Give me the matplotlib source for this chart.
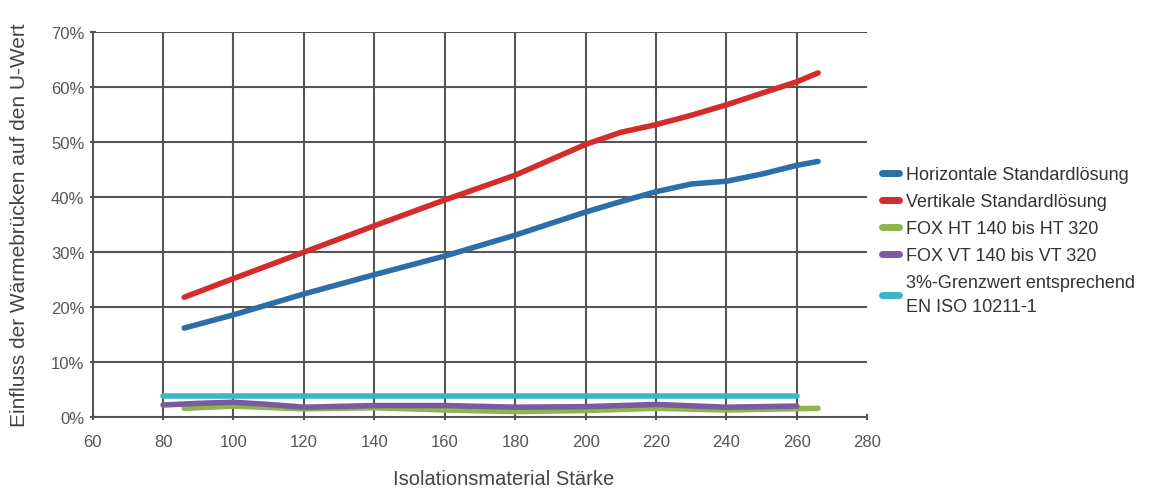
import matplotlib.pyplot as plt

x_main = [86, 100, 120, 140, 160, 180, 200, 210, 220, 230, 240, 250, 260, 266]
horizontal = [16.2, 18.6, 22.4, 25.9, 29.3, 33.1, 37.3, 39.2, 41.0, 42.4, 42.9, 44.2, 45.8, 46.5]
vertikal = [21.8, 25.2, 30.0, 34.8, 39.5, 44.0, 49.6, 51.8, 53.2, 54.9, 56.8, 58.9, 61.0, 62.6]

x_fox = [80, 90, 100, 110, 120, 140, 160, 180, 200, 220, 240, 260]
fox_vt = [2.2, 2.5, 2.7, 2.3, 1.8, 2.1, 2.1, 1.8, 1.9, 2.3, 1.8, 2.0]
x_fox_ht = [86, 100, 120, 140, 160, 180, 200, 220, 240, 266]
fox_ht = [1.6, 2.0, 1.5, 1.7, 1.3, 1.0, 1.2, 1.6, 1.3, 1.6]

x_grenz = [80, 260]
grenz = [3.8, 3.8]

xticks = list(range(60, 281, 20))
yticks = list(range(0, 71, 10))

plt.rcParams['font.family'] = ['Liberation Sans', 'DejaVu Sans']

fig = plt.figure(figsize=(11.58, 4.89), dpi=100)
ax = fig.add_axes([0.08, 0.145, 0.669, 0.787])

lw = 4
ax.plot(x_main, horizontal, color='#2b6ea8', lw=lw, solid_capstyle='round', label='Horizontale Standardlösung')
ax.plot(x_main, vertikal, color='#d42b2b', lw=lw, solid_capstyle='round', label='Vertikale Standardlösung')
ax.plot(x_fox_ht, fox_ht, color='#8db54c', lw=lw, solid_capstyle='round', label='FOX HT 140 bis HT 320')
ax.plot(x_fox, fox_vt, color='#7a5c9e', lw=lw, solid_capstyle='round', label='FOX VT 140 bis VT 320')
ax.plot(x_grenz, grenz, color='#3bb6c9', lw=lw, solid_capstyle='round', label='3%-Grenzwert entsprechend\nEN ISO 10211-1')

ax.set_xlim(60, 280)
ax.set_ylim(0, 70)
ax.set_xticks(xticks)
ax.set_yticks(yticks)
ax.set_yticklabels([f'{t}%' for t in yticks])
for x in xticks[1:-1]:
    ax.axvline(x, color='#555555', lw=1.5, zorder=0)
for y in yticks[1:]:
    ax.axhline(y, color='#555555', lw=1.5, zorder=0)

for s in ['top', 'right']:
    ax.spines[s].set_visible(False)
for s in ['left', 'bottom']:
    ax.spines[s].set_color('#555555')
    ax.spines[s].set_linewidth(1.5)
ax.tick_params(colors='#555555', labelsize=12, length=5, width=1.5, direction='inout')
ax.tick_params(axis='x', pad=10)

ax.set_xlabel('Isolationsmaterial Stärke', fontsize=14.5, color='#444444')
ax.xaxis.set_label_coords(0.53, -0.135)
ax.set_ylabel('Einfluss der Wärmebrücken auf den U-Wert', fontsize=15, color='#444444', labelpad=16)

leg = ax.legend(loc='upper left', bbox_to_anchor=(1.01, 0.67), frameon=False, fontsize=13,
                handlelength=0.9, handletextpad=0.4, labelspacing=0.55, borderaxespad=0)
for t in leg.get_texts():
    t.set_color('#333333')
    t.set_linespacing(1.5)
for h in leg.get_lines():
    h.set_linewidth(5)

fig.savefig('out.png', dpi=100)
